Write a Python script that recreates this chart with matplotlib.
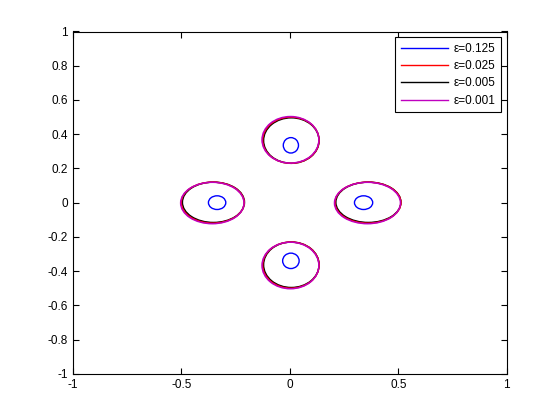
import matplotlib
matplotlib.use('Agg')
import matplotlib.pyplot as plt
from matplotlib.patches import Ellipse

plt.rcParams['font.family'] = ['Liberation Sans', 'DejaVu Sans']
plt.rcParams['font.size'] = 8.5

# epsilon values and colours (legend order)
eps_labels = ['\u03b5=0.125', '\u03b5=0.025', '\u03b5=0.005', '\u03b5=0.001']
eps_colors = ['b', 'r', 'k', 'm']
eps_zorder = [3, 2.5, 2, 2.6]

# curve centres (x, y) for the four blobs: top, left, right, bottom
centers_x = {
    0.125: [0.005, -0.335, 0.34, 0.005],
    0.025: [0.005, -0.355, 0.36, 0.005],
    0.005: [0.007, -0.352, 0.362, 0.007],
    0.001: [0.003, -0.357, 0.358, 0.003],
}
centers_y = {
    0.125: [0.335, 0.0, 0.0, -0.34],
    0.025: [0.365, 0.0, 0.0, -0.365],
    0.005: [0.363, 0.002, 0.002, -0.363],
    0.001: [0.367, -0.002, -0.002, -0.367],
}
# half widths / half heights
radii_x = {
    0.125: [0.035, 0.04, 0.042, 0.038],
    0.025: [0.13, 0.145, 0.152, 0.13],
    0.005: [0.128, 0.143, 0.15, 0.128],
    0.001: [0.131, 0.146, 0.152, 0.131],
}
radii_y = {
    0.125: [0.045, 0.04, 0.04, 0.045],
    0.025: [0.135, 0.12, 0.12, 0.135],
    0.005: [0.133, 0.118, 0.118, 0.133],
    0.001: [0.136, 0.121, 0.121, 0.136],
}
eps_values = [0.125, 0.025, 0.005, 0.001]

fig = plt.figure(figsize=(5.6, 4.2), dpi=100)
ax = fig.add_axes([0.13, 0.11, 0.775, 0.815])

for eps, col, lab, z in zip(eps_values, eps_colors, eps_labels, eps_zorder):
    for cx, cy, rx, ry in zip(centers_x[eps], centers_y[eps], radii_x[eps], radii_y[eps]):
        ax.add_patch(Ellipse((cx, cy), 2 * rx, 2 * ry, fill=False, edgecolor=col,
                             lw=1.0 if col == 'b' else 1.1, zorder=z))
    ax.plot([], [], color=col, lw=1, label=lab)

ax.set_xlim(-1, 1)
ax.set_ylim(-1, 1)
ax.set_xticks([-1, -0.5, 0, 0.5, 1])
ax.set_xticklabels(['-1', '-0.5', '0', '0.5', '1'])
yt = [-1, -0.8, -0.6, -0.4, -0.2, 0, 0.2, 0.4, 0.6, 0.8, 1]
ax.set_yticks(yt)
ax.set_yticklabels(['-1', '-0.8', '-0.6', '-0.4', '-0.2', '0', '0.2', '0.4', '0.6', '0.8', '1'])
ax.tick_params(direction='in', length=4, top=True, right=True, width=0.8)
for s in ax.spines.values():
    s.set_linewidth(0.8)

leg = ax.legend(loc='upper right', fancybox=False, framealpha=1, edgecolor='k',
                handlelength=4, handletextpad=0.5, borderpad=0.45, labelspacing=0.45,
                borderaxespad=0.5)
leg.get_frame().set_linewidth(0.8)
leg.set_zorder(5)

fig.savefig('out.png', dpi=100)
